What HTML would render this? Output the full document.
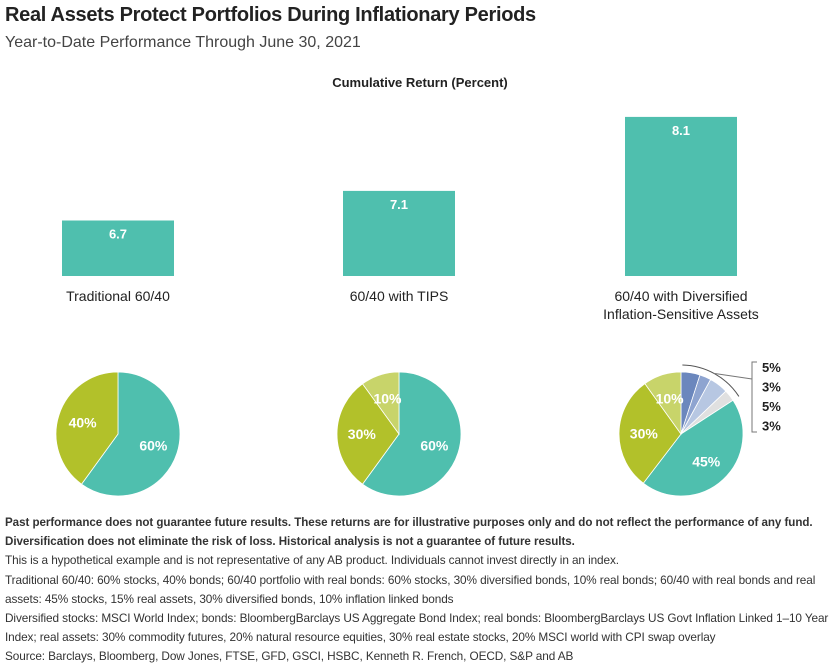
<!DOCTYPE html>
<html><head><meta charset="utf-8">
<style>
body{margin:0;background:#fff;font-family:"Liberation Sans",sans-serif;color:#222;}
#wrap{position:relative;width:840px;height:665px;overflow:hidden;}
.t{position:absolute;white-space:nowrap;}
.foot{position:absolute;left:5px;top:513px;width:834px;font-size:11.8px;line-height:19.2px;color:#333;letter-spacing:-0.1px;}
.foot b{letter-spacing:-0.05px;white-space:nowrap;font-size:11.6px;}
</style></head><body>
<div id="wrap">
<div class="t" style="left:5px;top:4px;font-size:20px;font-weight:bold;color:#222;letter-spacing:-0.3px">Real Assets Protect Portfolios During Inflationary Periods</div>
<div class="t" style="left:5px;top:34px;font-size:16px;color:#444">Year-to-Date Performance Through June 30, 2021</div>
<div class="t" style="left:0;width:840px;text-align:center;top:75px;font-size:13px;font-weight:bold">Cumulative Return (Percent)</div>
<svg id="svg" width="840" height="665" style="position:absolute;left:0;top:0"></svg>
<div class="foot">
<b>Past performance does not guarantee future results. These returns are for illustrative purposes only and do not reflect the performance of any fund.</b><br><b>Diversification does not eliminate the risk of loss. Historical analysis is not a guarantee of future results.</b><br>
This is a hypothetical example and is not representative of any AB product. Individuals cannot invest directly in an index.<br>
Traditional 60/40: 60% stocks, 40% bonds; 60/40 portfolio with real bonds: 60% stocks, 30% diversified bonds, 10% real bonds; 60/40 with real bonds and real assets: 45% stocks, 15% real assets, 30% diversified bonds, 10% inflation linked bonds<br>
Diversified stocks: MSCI World Index; bonds: BloombergBarclays US Aggregate Bond Index; real bonds: BloombergBarclays US Govt Inflation Linked 1–10 Year Index; real assets: 30% commodity futures, 20% natural resource equities, 30% real estate stocks, 20% MSCI world with CPI swap overlay<br>
Source: Barclays, Bloomberg, Dow Jones, FTSE, GFD, GSCI, HSBC, Kenneth R. French, OECD, S&amp;P and AB
</div>
</div>
<script>
const categories=["Traditional 60/40","60/40 with TIPS","60/40 with Diversified|Inflation-Sensitive Assets"];
const returns=[6.7,7.1,8.1];
const pie1=[60,40];
const pie2=[60,30,10];
const pie3=[5,3,5,3,45,30,10];
const pie3Labels=["5%","3%","5%","3%"];
const NS="http://www.w3.org/2000/svg";
const svg=document.getElementById('svg');
function mk(t,a,p){const e=document.createElementNS(NS,t);for(const k in a)e.setAttribute(k,a[k]);(p||svg).appendChild(e);return e;}
const base=276,yMin=5.95,pxPer=74;
function y(v){return base-(v-yMin)*pxPer;}
const centers=[118,399,681];
returns.forEach((v,i)=>{
 const r=mk('rect',{x:centers[i]-56,y:y(v),width:112,height:base-y(v),fill:'#4fbfae'});
 
 
 const t=mk('text',{x:centers[i],y:y(v)+18,'text-anchor':'middle','font-size':13,'font-weight':'bold',fill:'#fff'});
 t.textContent=v.toFixed(1);
 
 
 categories[i].split('|').forEach((ln,j)=>{
  const c=mk('text',{x:centers[i],y:301+j*18,'text-anchor':'middle','font-size':14,fill:'#222'});
  c.textContent=ln;
  
  
 });
});
function pie(cx,cy,r,vals,cols,labels){
 let a=0;const tot=vals.reduce((s,v)=>s+v,0);
 vals.forEach((v,i)=>{
  const a0=a,a1=a+v/tot*2*Math.PI;a=a1;
  const p0=[cx+r*Math.sin(a0),cy-r*Math.cos(a0)],p1=[cx+r*Math.sin(a1),cy-r*Math.cos(a1)];
  const lg=(a1-a0)>Math.PI?1:0;
  const s=mk('path',{d:`M${cx},${cy}L${p0[0]},${p0[1]}A${r},${r} 0 ${lg} 1 ${p1[0]},${p1[1]}Z`,fill:cols[i],stroke:'#fff','stroke-width':0.8});
  
  
  if(labels[i]){const m=(a0+a1)/2,lr=r*0.6;
   const t=mk('text',{x:cx+lr*Math.sin(m),y:cy-lr*Math.cos(m)+5,'text-anchor':'middle','font-size':14,'font-weight':'bold',fill:'#fff'});
   t.textContent=labels[i];
   
   }
 });
}
const teal='#4fbfae',olive='#b2c12a',lolive='#c8d46a';
pie(118,434,62,pie1,[teal,olive],pie1.map(v=>v+'%'));
pie(399,434,62,pie2,[teal,olive,lolive],pie2.map(v=>v+'%'));
pie(681,434,62,pie3,['#6b87bd','#8ea4d0','#b7c7e2','#e0e0e0',teal,olive,lolive],["","","","","45%","30%","10%"]);
const tot3=pie3.reduce((s,v)=>s+v,0);
const bsum=pie3.slice(0,4).reduce((s,v)=>s+v,0)/tot3*2*Math.PI;
const R=69,cx=681,cy=434;
mk('path',{d:`M${cx+R*Math.sin(0.02)},${cy-R*Math.cos(0.02)}A${R},${R} 0 0 1 ${cx+R*Math.sin(bsum)},${cy-R*Math.cos(bsum)}`,fill:'none',stroke:'#555','stroke-width':1});
const mid=bsum/2;
mk('path',{d:`M${cx+R*Math.sin(mid)},${cy-R*Math.cos(mid)}L752,379M757,362L752,362L752,432L757,432`,fill:'none',stroke:'#777','stroke-width':1});
pie3Labels.forEach((l,i)=>{
 const t=mk('text',{x:762,y:372+i*19.5,'font-size':13,'font-weight':'bold',fill:'#222'});
 t.textContent=l;
 
 
});
</script>
</body></html>
